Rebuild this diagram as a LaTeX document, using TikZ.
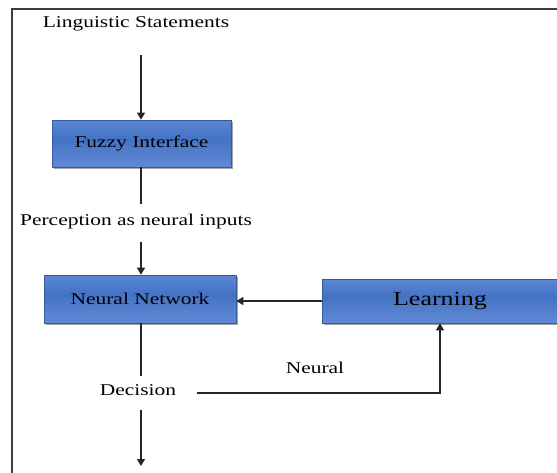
\documentclass[tikz,border=0pt]{standalone}
\usepackage{fontspec}
\newfontfamily\dfont[FakeStretch=1.3]{Liberation Serif}
\usetikzlibrary{arrows.meta,shadows}
\definecolor{bA}{HTML}{3A62AC}
\definecolor{bB}{HTML}{6790DB}
\definecolor{bC}{HTML}{4472C4}
\definecolor{bD}{HTML}{5C86D2}
\definecolor{bE}{HTML}{9DB6E5}
\definecolor{frame}{HTML}{3C3C3C}
\pgfdeclareverticalshading{boxshade}{100bp}{color(0bp)=(bA);color(6bp)=(bB);color(30bp)=(bD);color(55bp)=(bC);color(85bp)=(bB);color(100bp)=(bE)}
\tikzset{
  bluebox/.style={draw=bC!80!black, line width=0.6pt, shading=boxshade, inner sep=0pt,
    drop shadow={shadow xshift=2pt, shadow yshift=-2pt, fill=black!45, opacity=0.8},
    font=\dfont\fontsize{16.5}{18}\selectfont, text=black},
  lbl/.style={inner sep=0pt, font=\dfont\fontsize{16.5}{18}\selectfont, text=black},
  arr/.style={line width=1.3pt, draw=black!85, -{Triangle[width=8pt,length=7pt]}},
  ln/.style={line width=1.3pt, draw=black!85}
}
\begin{document}
\begin{tikzpicture}[x=1pt,y=-1pt]
\useasboundingbox (0,0) rectangle (557,472);
\clip (0,0) rectangle (557,472);
\draw[line width=1.4pt, frame] (12,473) -- (12,9) -- (558,9);
% nodes
\node[lbl] (ling) at (136,24) {Linguistic Statements};
\node[bluebox, minimum width=179pt, minimum height=47pt] (fuzzy) at (141.5,143.5) {Fuzzy Interface};
\node[lbl] (perc) at (136,222) {Perception as neural inputs};
\node[bluebox, minimum width=192pt, minimum height=48pt] (nn) at (140,299) {Neural Network};
\node[bluebox, minimum width=236pt, minimum height=44pt, font=\dfont\fontsize{20}{22}\selectfont] (learn) at (440,301) {Learning};
\node[lbl] (dec) at (138,390) {Decision};
\node[lbl] (neural) at (315,368) {Neural};
% connector ends
\coordinate (a1) at (141,55);
\coordinate (a2) at (141,204);
\coordinate (a3) at (141,242);
\coordinate (a4) at (141,376);
\coordinate (a5) at (141,410);
\coordinate (a6) at (141,466);
\coordinate (d1) at (197,393);
% connectors
\draw[arr] (a1) -- (a1 |- fuzzy.north);
\draw[ln] (a1 |- fuzzy.south) -- (a2);
\draw[arr] (a3) -- (a3 |- nn.north);
\draw[ln] (a3 |- nn.south) -- (a4);
\draw[arr] (a5) -- (a6);
\draw[arr] (learn.west) -- (learn.west -| nn.east);
\draw[arr] (d1) -| (learn.south);
\end{tikzpicture}
\end{document}
